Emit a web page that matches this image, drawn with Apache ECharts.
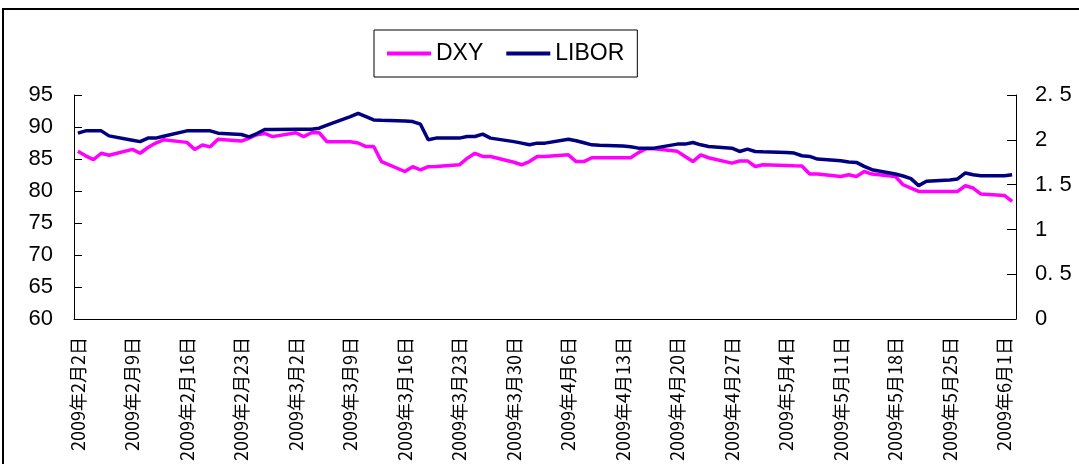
<!DOCTYPE html>
<html>
<head>
<meta charset="utf-8">
<script src="https://cdn.jsdelivr.net/npm/echarts@6/dist/echarts.min.js"></script>
<style>
  html, body { margin: 0; padding: 0; background: #fff; }
  #chart { width: 1079px; height: 464px; }
</style>
</head>
<body>
<div id="chart"></div>
<script>
// Trading days (month/day, 2009) and daily closes
const tradingDays = [
  '2/2','2/3','2/4','2/5','2/6',
  '2/9','2/10','2/11','2/12','2/13',
  '2/16','2/17','2/18','2/19','2/20',
  '2/23','2/24','2/25','2/26','2/27',
  '3/2','3/3','3/4','3/5','3/6',
  '3/9','3/10','3/11','3/12','3/13',
  '3/16','3/17','3/18','3/19','3/20',
  '3/23','3/24','3/25','3/26','3/27',
  '3/30','3/31','4/1','4/2','4/3',
  '4/6','4/7','4/8','4/9','4/10',
  '4/13','4/14','4/15','4/16','4/17',
  '4/20','4/21','4/22','4/23','4/24',
  '4/27','4/28','4/29','4/30','5/1',
  '5/4','5/5','5/6','5/7','5/8',
  '5/11','5/12','5/13','5/14','5/15',
  '5/18','5/19','5/20','5/21','5/22',
  '5/25','5/26','5/27','5/28','5/29',
  '6/1','6/2'
];

const dxy = [
  86.2, 85.5, 84.9, 85.9, 85.6,
  86.5, 85.9, 86.8, 87.5, 88.0,
  87.6, 86.5, 87.2, 86.9, 88.1,
  87.8, 88.25, 88.8, 89.0, 88.5,
  89.1, 88.5, 89.1, 89.1, 87.7,
  87.7, 87.5, 86.95, 86.95, 84.6,
  83.05, 83.8, 83.3, 83.8, 83.85,
  84.1, 85.1, 85.9, 85.4, 85.4,
  84.5, 84.1, 84.6, 85.4, 85.4,
  85.65, 84.6, 84.6, 85.2, 85.2,
  85.2, 85.2, 86.0, 86.6, 86.6,
  86.2, 85.4, 84.6, 85.65, 85.2,
  84.36, 84.7, 84.7, 83.83, 84.1,
  84.0, 83.94, 83.9, 82.65, 82.65,
  82.28, 82.54, 82.28, 83.05, 82.65,
  82.28, 80.98, 80.46, 79.94, 79.94,
  79.94, 79.94, 80.83, 80.47, 79.53,
  79.32, 78.38
];

const libor = [
  2.074, 2.10, 2.10, 2.10, 2.044,
  1.996, 1.98, 2.019, 2.019, 2.04,
  2.10, 2.10, 2.10, 2.10, 2.074,
  2.059, 2.033, 2.07, 2.115, 2.115,
  2.117, 2.117, 2.117, 2.13, 2.165,
  2.258, 2.296, 2.259, 2.222, 2.219,
  2.211, 2.204, 2.174, 2.0, 2.019,
  2.019, 2.037, 2.037, 2.063, 2.019,
  1.98, 1.963, 1.944, 1.963, 1.963,
  2.007, 1.989, 1.967, 1.944, 1.94,
  1.93, 1.922, 1.907, 1.907, 1.907,
  1.952, 1.952, 1.97, 1.944, 1.926,
  1.907, 1.87, 1.896, 1.87, 1.867,
  1.859, 1.852, 1.822, 1.815, 1.785,
  1.767, 1.752, 1.748, 1.704, 1.667,
  1.619, 1.596, 1.567, 1.489, 1.537,
  1.552, 1.563, 1.63, 1.611, 1.6,
  1.6, 1.611
];

const leftTicks = { min: 60, max: 95, interval: 5 };
const rightTicks = { min: 0, max: 2.5, interval: 0.5 };

// Calendar-day category axis, 2009-02-02 .. 2009-06-02; non-trading days stay empty
const categories = [];
const keys = [];
for (let t = Date.UTC(2009, 1, 2); t <= Date.UTC(2009, 5, 2); t += 86400000) {
  const d = new Date(t);
  const m = d.getUTCMonth() + 1, day = d.getUTCDate();
  keys.push(m + '/' + day);
  categories.push('2009年' + m + '月' + day + '日');
}
function spread(values) {
  const out = keys.map(() => null);
  tradingDays.forEach((k, i) => { out[keys.indexOf(k)] = values[i]; });
  return out;
}

const axisColor = '#000';
const chart = echarts.init(document.getElementById('chart'), null, { renderer: 'canvas' });
chart.setOption({
  backgroundColor: '#fff',
  animation: false,
  graphic: [{
    type: 'rect',
    silent: true,
    shape: { x: 3, y: 9, width: 1200, height: 600 },
    style: { fill: 'none', stroke: '#000', lineWidth: 2 }
  }],
  legend: {
    left: 374,
    top: 30,
    padding: [12, 13],
    borderColor: '#000',
    borderWidth: 1,
    backgroundColor: '#fff',
    itemWidth: 44,
    itemHeight: 4,
    itemGap: 23,
    icon: 'rect',
    textStyle: { fontFamily: 'Liberation Sans', fontSize: 23, color: '#000' },
    data: ['DXY', 'LIBOR']
  },
  grid: { left: 74, right: 63, top: 95, height: 225 },
  xAxis: {
    type: 'category',
    data: categories,
    boundaryGap: true,
    axisLine: { lineStyle: { color: axisColor, width: 1 } },
    axisTick: { inside: true, length: 6, interval: 6, alignWithLabel: true, lineStyle: { color: axisColor } },
    axisLabel: {
      interval: 6,
      rotate: 90,
      margin: 18,
      fontFamily: 'Noto Sans CJK JP',
      fontSize: 18,
      color: '#000'
    },
    splitLine: { show: false }
  },
  yAxis: [{
    type: 'value',
    min: leftTicks.min, max: leftTicks.max, interval: leftTicks.interval,
    axisLine: { show: true, lineStyle: { color: axisColor } },
    axisTick: { show: true, inside: true, length: 8, lineStyle: { color: axisColor } },
    axisLabel: { margin: 21, fontFamily: 'Liberation Sans', fontSize: 22, color: '#000' },
    splitLine: { show: false }
  }, {
    type: 'value',
    position: 'right',
    min: rightTicks.min, max: rightTicks.max, interval: rightTicks.interval,
    axisLine: { show: true, lineStyle: { color: axisColor } },
    axisTick: { show: true, inside: true, length: 9, lineStyle: { color: axisColor } },
    axisLabel: {
      margin: 19, fontFamily: 'Liberation Sans', fontSize: 22, color: '#000',
      formatter: v => String(v).replace('.', '. ')
    },
    splitLine: { show: false }
  }],
  series: [{
    name: 'DXY',
    type: 'line',
    yAxisIndex: 0,
    data: spread(dxy),
    connectNulls: true,
    showSymbol: false,
    symbol: 'none',
    color: '#FF00FF',
    lineStyle: { color: '#FF00FF', width: 3.5 },
    z: 2
  }, {
    name: 'LIBOR',
    type: 'line',
    yAxisIndex: 1,
    data: spread(libor),
    connectNulls: true,
    showSymbol: false,
    symbol: 'none',
    color: '#000080',
    lineStyle: { color: '#000080', width: 3.5 },
    z: 3
  }]
});
</script>
</body>
</html>
